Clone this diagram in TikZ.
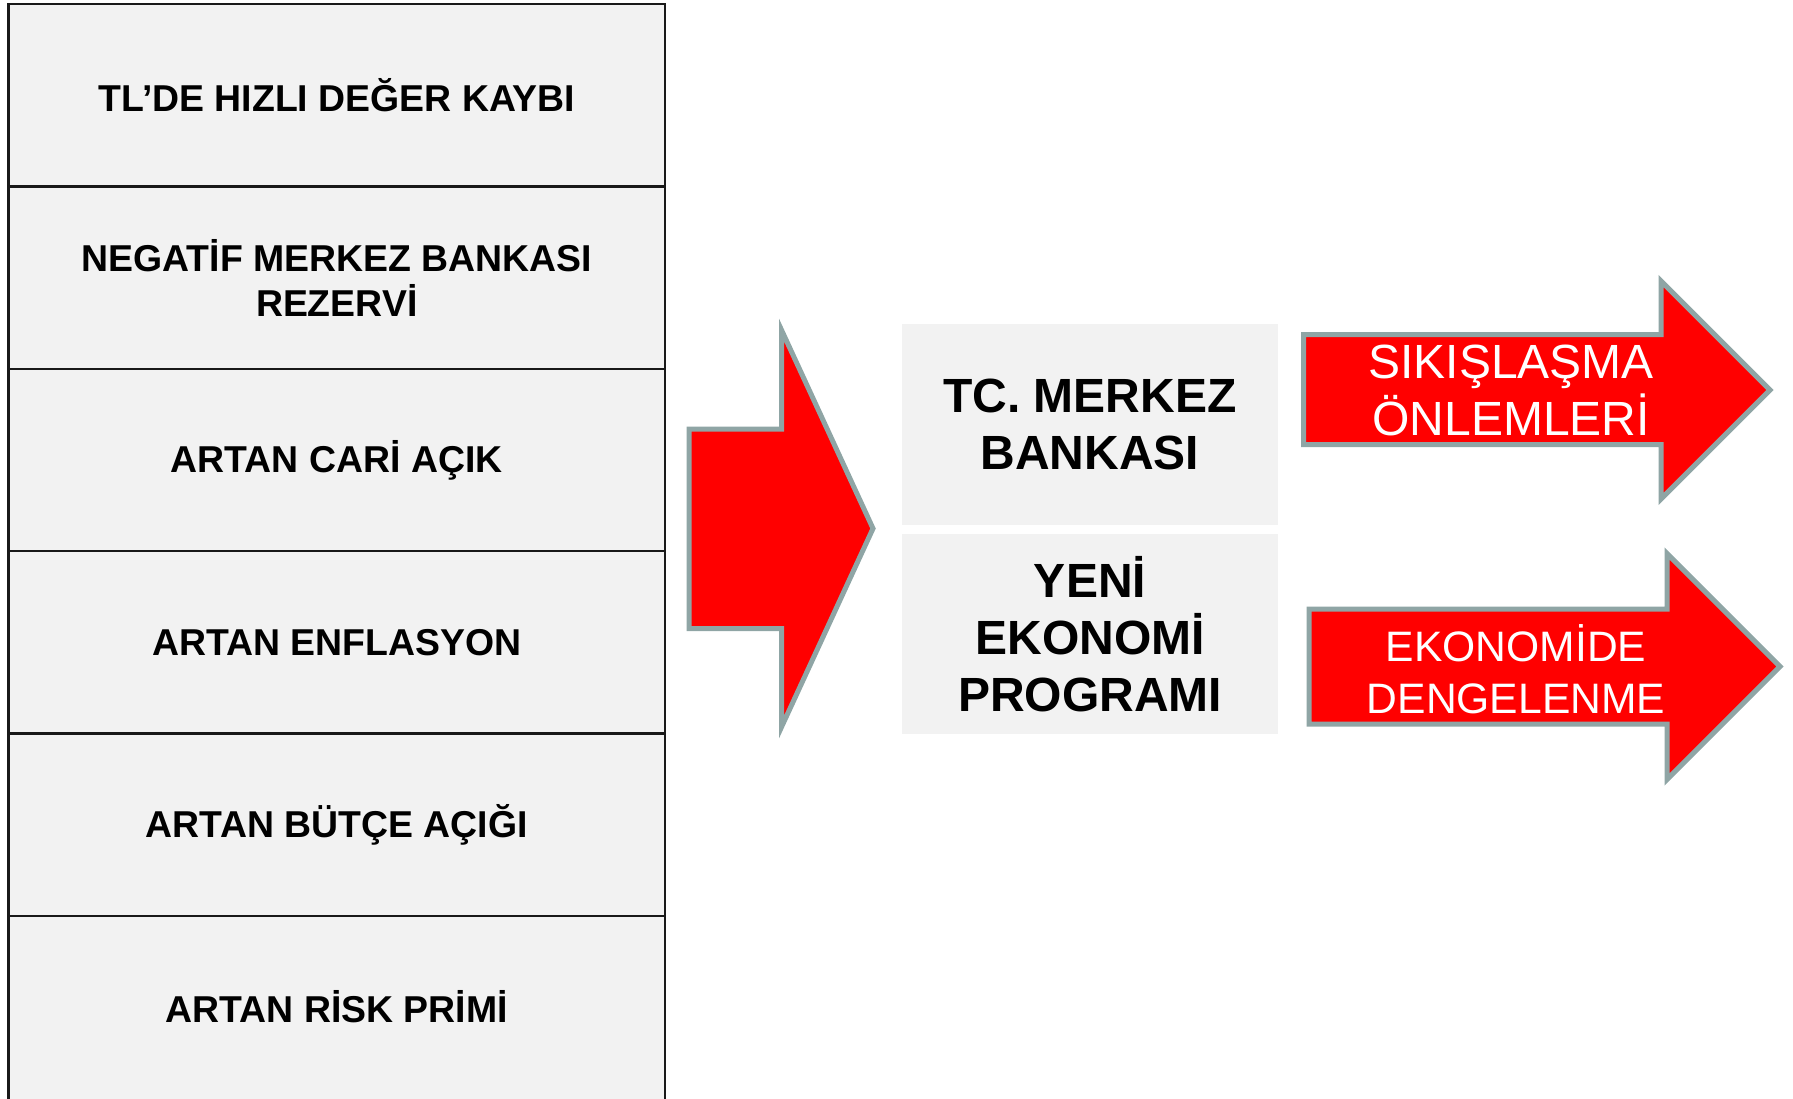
\documentclass[tikz,border=0pt]{standalone}
\usepackage{fontspec}
\setmainfont{Liberation Sans}
\usetikzlibrary{positioning}
\definecolor{panelgray}{RGB}{242,242,242}
\definecolor{arrowred}{RGB}{255,0,0}
\definecolor{rimgray}{RGB}{143,165,165}

\begin{document}
\begin{tikzpicture}[x=0.5pt, y=-0.5pt, node distance=91.2pt]
    \tikzstyle{cause} = [rectangle, draw=black!90, line width=1.25pt, fill=panelgray, minimum width=328.25pt, minimum height=91.2pt, align=center, inner sep=0pt, font=\bfseries\fontsize{18.7}{22.5}\selectfont]
    \tikzstyle{actor} = [rectangle, fill=panelgray, minimum width=188pt, minimum height=100.5pt, align=center, inner sep=0pt, font=\bfseries\fontsize{24}{28.5}\selectfont]
    \tikzstyle{blockarrow} = [draw=rimgray, line width=2.5pt, fill=arrowred, line join=miter]
    \tikzstyle{result} = [text=white, align=center, inner sep=0pt, font=\fontsize{24}{28.5}\selectfont]

    \useasboundingbox (0,0) rectangle (1793,1098);

    \node[cause] (kur) at (336.75,95.2) {TL’DE HIZLI DEĞER KAYBI};
    \node[cause, below of=kur] (rezerv) {NEGATİF MERKEZ BANKASI\\REZERVİ};
    \node[cause, below of=rezerv] (cari) {ARTAN CARİ AÇIK};
    \node[cause, below of=cari] (enflasyon) {ARTAN ENFLASYON};
    \node[cause, below of=enflasyon] (butce) {ARTAN BÜTÇE AÇIĞI};
    \node[cause, below of=butce, minimum height=96pt, yshift=-2.4pt, text depth=5.4pt] (risk) {ARTAN RİSK PRİMİ};

    \draw[blockarrow] (689,429) -- (781.5,429) -- (781.5,330) -- (873,528.5) -- (781.5,727) -- (781.5,628.5) -- (689,628.5) -- cycle;

    \node[actor] (tcmb) at (1090,424.5) {TC. MERKEZ\\BANKASI};
    \node[actor, below=4pt of tcmb, minimum height=100pt] (program) {YENİ\\EKONOMİ\\PROGRAMI};

    \draw[blockarrow] (1303.5,334.5) -- (1661,334.5) -- (1661,281) -- (1770,390) -- (1661,499) -- (1661,444.5) -- (1303.5,444.5) -- cycle;
    \draw[blockarrow] (1309,609) -- (1667,609) -- (1667,553.5) -- (1780,666.5) -- (1667,779.5) -- (1667,724) -- (1309,724) -- cycle;

    \node[result] (onlem) at (1511,390) {SIKIŞLAŞMA\\ÖNLEMLERİ};
    \node[result, font=\fontsize{21.3}{26}\selectfont] (denge) at (1516,669) {EKONOMİDE\\DENGELENME};
\end{tikzpicture}
\end{document}
